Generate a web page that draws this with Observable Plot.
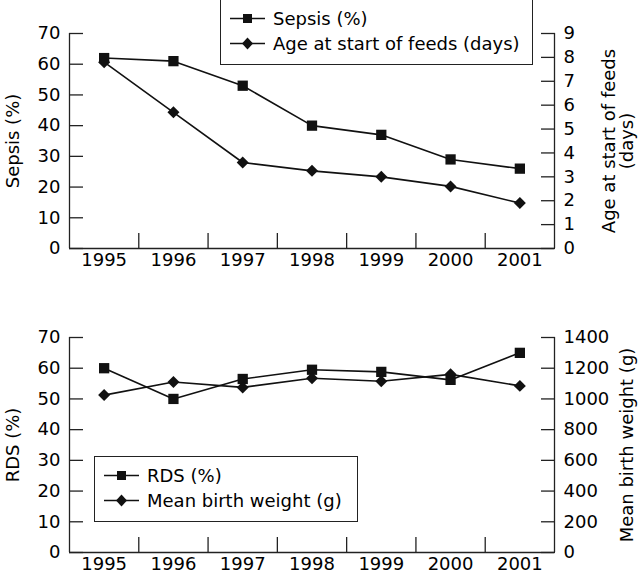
<!DOCTYPE html>
<html><head><meta charset="utf-8">
<script src="https://cdn.jsdelivr.net/npm/d3@7"></script>
<script src="https://cdn.jsdelivr.net/npm/@observablehq/plot@0.6"></script>
<style>
body{margin:0;background:#fff;}
#wrap{position:relative;width:640px;font-family:"DejaVu Sans",sans-serif;color:#000;}
.legend{position:absolute;border:1.4px solid #222;background:#fff;box-sizing:border-box;font-size:18px;padding:6px 0 0 9px;}
.row{display:flex;align-items:center;height:25px;white-space:nowrap;}
.row svg{margin-right:8px;}
#wrap > svg{display:block}
</style></head><body><div id="wrap"></div>
<script>
const years = [1995, 1996, 1997, 1998, 1999, 2000, 2001];
const sepsisPct = [62, 61, 53, 40, 37, 29, 26];
const ageStartFeedsDays = [7.8, 5.7, 3.6, 3.25, 3.0, 2.6, 1.9];
const rdsPct = [60, 50, 56.5, 59.5, 58.8, 56.2, 65];
const meanBirthWeightG = [1025, 1110, 1075, 1135, 1115, 1160, 1085];

const leftTicks = [0, 10, 20, 30, 40, 50, 60, 70];
const ageTicks = [0, 1, 2, 3, 4, 5, 6, 7, 8, 9];
const weightTicks = [0, 200, 400, 600, 800, 1000, 1200, 1400];

const topLegend = ["Sepsis (%)", "Age at start of feeds (days)"];
const bottomLegend = ["RDS (%)", "Mean birth weight (g)"];

const wrap = document.getElementById("wrap");

function panel({left, right, rightMax, rightTicks, leftLabel, rightLabel, height, marginBottom, rightLabelOffset}) {
  const k = 70 / rightMax;
  const leftData = years.map((y, i) => ({year: y, v: left[i]}));
  const rightData = years.map((y, i) => ({year: y, v: right[i] * k}));
  const boundaries = years.slice(0, -1).map(y => y + 0.5);
  return Plot.plot({
    width: 640,
    height,
    marginLeft: 69,
    marginRight: 86,
    marginTop: 33,
    marginBottom,
    style: {fontFamily: "DejaVu Sans, sans-serif", fontSize: "18px", color: "#000", background: "#fff"},
    x: {domain: [years[0] - 0.5, years[years.length - 1] + 0.5]},
    y: {domain: [0, 70]},
    marks: [
      Plot.ruleY([0], {stroke: "#222", strokeWidth: 1.3}),
      Plot.ruleX([years[0] - 0.5, years[years.length - 1] + 0.5], {stroke: "#222", strokeWidth: 1.3}),
      Plot.axisX({ticks: boundaries, tickSize: -15, tickFormat: () => "", stroke: "#222", strokeWidth: 1.3, label: null}),
      Plot.axisX({ticks: years, tickSize: 0, tickPadding: 5, tickFormat: d => String(d), label: null}),
      Plot.axisY({anchor: "left", ticks: leftTicks, tickSize: -14, tickPadding: 23, tickFormat: d => String(d),
        stroke: "#222", strokeWidth: 1.3, label: leftLabel, labelAnchor: "center", labelArrow: "none", labelOffset: 63}),
      Plot.axisY({anchor: "right", ticks: rightTicks.map(t => t * k), tickSize: -14, tickPadding: 23,
        tickFormat: d => String(Math.round(d / k)), stroke: "#222", strokeWidth: 1.3,
        label: rightLabel, labelAnchor: "center", labelArrow: "none", labelOffset: rightLabelOffset}),
      Plot.line(leftData, {x: "year", y: "v", stroke: "#111", strokeWidth: 1.6}),
      Plot.line(rightData, {x: "year", y: "v", stroke: "#111", strokeWidth: 1.6}),
      Plot.dot(leftData, {x: "year", y: "v", symbol: "square", r: 5.8, fill: "#111", stroke: null}),
      Plot.dot(rightData, {x: "year", y: "v", symbol: "diamond2", r: 5.4, fill: "#111", stroke: null})
    ]
  });
}

function legend(names, pos) {
  const div = document.createElement("div");
  div.className = "legend";
  Object.assign(div.style, pos);
  const shapes = [
    '<rect x="13" y="6" width="9" height="9" fill="#111"/>',
    '<path d="M17.5,4.5 L23,10.5 L17.5,16.5 L12,10.5Z" fill="#111"/>'
  ];
  names.forEach((n, i) => {
    const row = document.createElement("div");
    row.className = "row";
    row.innerHTML = `<svg width="35" height="21" viewBox="0 0 35 21"><line x1="0" x2="35" y1="10.5" y2="10.5" stroke="#111" stroke-width="1.6"/>${shapes[i]}</svg><span>${n}</span>`;
    div.appendChild(row);
  });
  return div;
}

wrap.appendChild(panel({left: sepsisPct, right: ageStartFeedsDays, rightMax: 9, rightTicks: ageTicks,
  leftLabel: "Sepsis (%)", rightLabel: "Age at start of feeds\n(days)", height: 304, marginBottom: 56, rightLabelOffset: 78}));
wrap.appendChild(panel({left: rdsPct, right: meanBirthWeightG, rightMax: 1400, rightTicks: weightTicks,
  leftLabel: "RDS (%)", rightLabel: "Mean birth weight (g)", height: 270, marginBottom: 22, rightLabelOffset: 78}));
wrap.appendChild(legend(topLegend, {left: "220px", top: "-1px", width: "313px", height: "66px"}));
wrap.appendChild(legend(bottomLegend, {left: "94px", top: "456px", width: "264px", height: "66px"}));
</script>
</body></html>
